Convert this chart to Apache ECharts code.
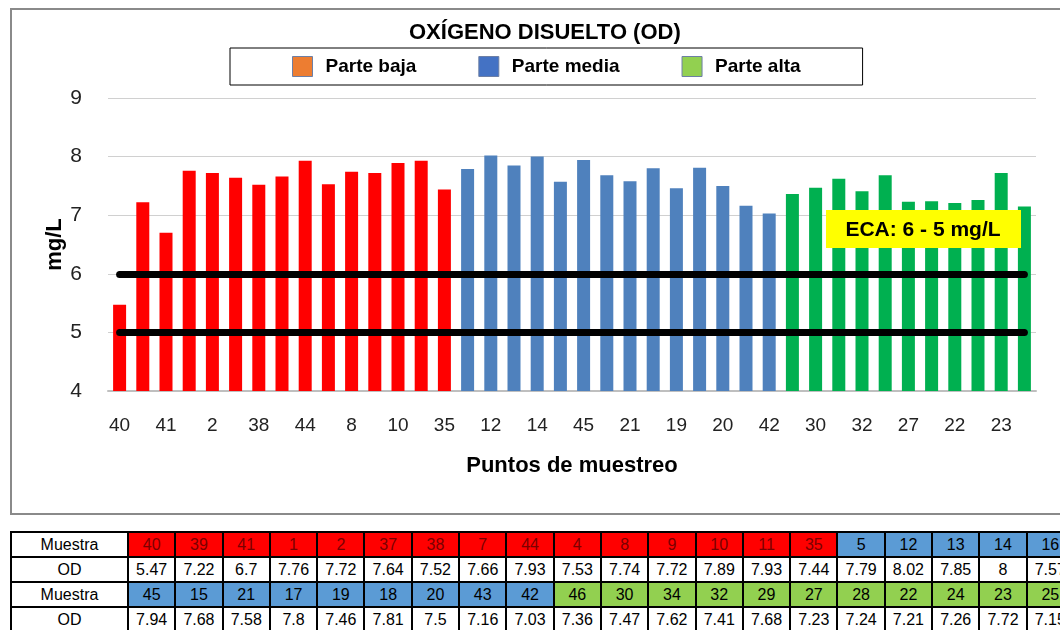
<!DOCTYPE html>
<html>
<head>
<meta charset="utf-8">
<title>Oxígeno disuelto (OD)</title>
<script src="https://cdn.jsdelivr.net/npm/echarts@6/dist/echarts.min.js"></script>
<style>
body{margin:0;background:#fff;overflow:hidden;font-family:"Liberation Sans",Arial,sans-serif;}
#marco{position:absolute;left:10px;top:8px;width:1070px;height:503px;border:2px solid #8a8a8a;}
#grafico{position:absolute;left:0;top:0;width:1060px;height:520px;}
#tabla{position:absolute;left:10px;top:531px;border-collapse:collapse;table-layout:fixed;width:1063px;}
#tabla td{border:2px solid #000;height:23px;padding:0;text-align:center;font-size:16px;color:#000;white-space:nowrap;overflow:hidden;}
#tabla td.baja{background:#ff0000;color:#7a0000;}
#tabla td.media{background:#5b9bd5;}
#tabla td.alta{background:#92d050;}
</style>
</head>
<body>
<div id="marco"></div>
<div id="grafico"></div>
<table id="tabla"></table>
<script type="text/javascript">
	var muestraBaja = ['40','39','41','1','2','37','38','7','44','4','8','9','10','11','35'];
	var odBaja = [5.47,7.22,6.7,7.76,7.72,7.64,7.52,7.66,7.93,7.53,7.74,7.72,7.89,7.93,7.44];
	var muestraMedia = ['5','12','13','14','16','45','15','21','17','19','18','20','43','42'];
	var odMedia = [7.79,8.02,7.85,8,7.57,7.94,7.68,7.58,7.8,7.46,7.81,7.5,7.16,7.03];
	var muestraAlta = ['46','30','34','32','29','27','28','22','24','23','25'];
	var odAlta = [7.36,7.47,7.62,7.41,7.68,7.23,7.24,7.21,7.26,7.72,7.15];
	var limitesECA = [6, 5];
	var ticksY = [4, 5, 6, 7, 8, 9];

	var categorias = muestraBaja.concat(muestraMedia, muestraAlta);
	var total = categorias.length;

	function serieTramo(valores, inicio) {
		var d = [];
		for (var i = 0; i < total; i++) {
			var j = i - inicio;
			d.push(j >= 0 && j < valores.length ? valores[j] : '-');
		}
		return d;
	}

	var fuente = '"Liberation Sans",Arial,sans-serif';

	var myChart = echarts.init(document.getElementById('grafico'));
	var option = {
		animation: false,
		title: {
			text: 'OXÍGENO DISUELTO (OD)',
			left: 404,
			top: 17,
			textStyle: {fontFamily: fuente, fontSize: 22, fontWeight: 'bold', color: '#000'}
		},
		legend: {
			top: 48,
			left: 230,
			padding: [8, 62, 8, 62],
			borderColor: '#000',
			borderWidth: 1,
			itemWidth: 20,
			itemHeight: 20,
			itemGap: 62,
			icon: 'rect',
			textStyle: {fontFamily: fuente, fontSize: 19, fontWeight: 'bold', color: '#000', padding: [0, 0, 0, 8]},
			data: [
				{name: 'Parte baja', itemStyle: {color: '#ed7d31', borderColor: '#6d7fa5', borderWidth: 1}},
				{name: 'Parte media', itemStyle: {color: '#4472c4', borderColor: '#6d7fa5', borderWidth: 1}},
				{name: 'Parte alta', itemStyle: {color: '#92d050', borderColor: '#6d7fa5', borderWidth: 1}}
			]
		},
		grid: {left: 108, right: 24, top: 98, bottom: 129},
		xAxis: {
			type: 'category',
			data: categorias,
			name: 'Puntos de muestreo',
			nameLocation: 'middle',
			nameGap: 64,
			nameTextStyle: {fontFamily: fuente, fontSize: 22, fontWeight: 'bold', color: '#000'},
			axisLine: {lineStyle: {color: '#bfbfbf', width: 2}},
			axisTick: {show: false},
			axisLabel: {interval: 1, margin: 25, fontFamily: fuente, fontSize: 19, color: '#222'}
		},
		yAxis: {
			type: 'value',
			min: ticksY[0],
			max: ticksY[ticksY.length - 1],
			interval: 1,
			name: 'mg/L',
			nameLocation: 'middle',
			nameGap: 42,
			nameMoveOverlap: false,
			nameTextStyle: {fontFamily: fuente, fontSize: 22, fontWeight: 'bold', color: '#000'},
			axisLine: {show: false},
			axisTick: {show: false},
			axisLabel: {margin: 26, fontFamily: fuente, fontSize: 21, color: '#222'},
			splitLine: {lineStyle: {color: '#d0d0d0', width: 1}}
		},
		series: [
			{
				name: 'Parte baja',
				type: 'bar',
				data: serieTramo(odBaja, 0),
				barWidth: 13,
				barGap: '-100%',
				itemStyle: {color: '#ff0000'},
				markLine: {
					silent: true,
					symbol: 'none',
					label: {show: false},
					lineStyle: {color: '#000', width: 7, type: 'solid', cap: 'round'},
					data: limitesECA.map(function (v) {
						return [{xAxis: categorias[0], yAxis: v}, {xAxis: categorias[total - 1], yAxis: v}];
					})
				},
				z: 2
			},
			{
				name: 'Parte media',
				type: 'bar',
				data: serieTramo(odMedia, muestraBaja.length),
				barWidth: 13,
				barGap: '-100%',
				itemStyle: {color: '#4f81bd'}
			},
			{
				name: 'Parte alta',
				type: 'bar',
				data: serieTramo(odAlta, muestraBaja.length + muestraMedia.length),
				barWidth: 13,
				barGap: '-100%',
				itemStyle: {color: '#00b050'}
			}
		],
		graphic: [{
			type: 'group',
			left: 826,
			top: 210,
			z: 100,
			children: [
				{type: 'rect', z: 100, shape: {x: 0, y: 0, width: 195, height: 38}, style: {fill: '#ffff00'}},
				{type: 'text', z: 101, x: 97, y: 20, style: {text: 'ECA: 6 - 5 mg/L', fontFamily: fuente, fontSize: 21, fontWeight: 'bold', fill: '#000', align: 'center', verticalAlign: 'middle'}}
			]
		}]
	};
	myChart.setOption(option);

	// tabla de datos debajo del grafico
	var tabla = document.getElementById('tabla');
	var cols = '<colgroup><col style="width:117px">';
	for (var c = 0; c < 20; c++) cols += '<col style="width:47.3px">';
	cols += '</colgroup>';
	var clases = [];
	muestraBaja.forEach(function () { clases.push('baja'); });
	muestraMedia.forEach(function () { clases.push('media'); });
	muestraAlta.forEach(function () { clases.push('alta'); });
	var valores = odBaja.concat(odMedia, odAlta);
	var html = cols;
	for (var b = 0; b < 2; b++) {
		var f1 = '<tr><td>Muestra</td>', f2 = '<tr><td>OD</td>';
		for (var k = b * 20; k < b * 20 + 20; k++) {
			f1 += '<td class="' + clases[k] + '">' + categorias[k] + '</td>';
			f2 += '<td>' + valores[k] + '</td>';
		}
		html += f1 + '</tr>' + f2 + '</tr>';
	}
	tabla.innerHTML = html;
</script>
</body>
</html>
